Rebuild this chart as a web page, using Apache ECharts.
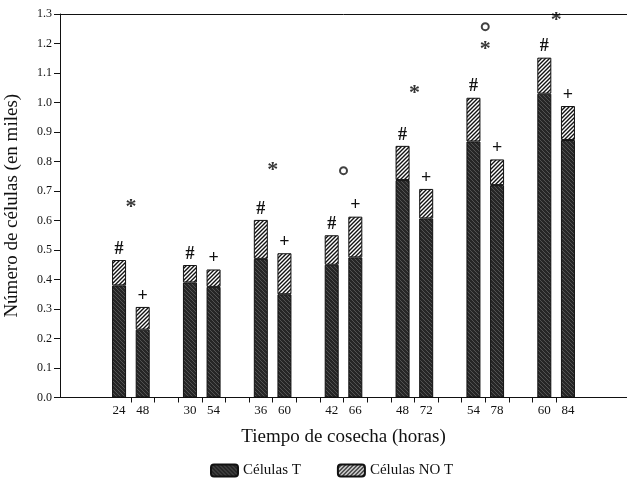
<!DOCTYPE html>
<html>
<head>
<meta charset="utf-8">
<script src="https://cdn.jsdelivr.net/npm/echarts@6/dist/echarts.min.js"></script>
<style>html,body{margin:0;padding:0;background:#fff}#c{width:627px;height:479px}</style>
</head>
<body>
<div id="c"></div>
<script>
// ---- data ----
const groupLabels = [['24','48'],['30','54'],['36','60'],['42','66'],['48','72'],['54','78'],['60','84']];
const celulasT   = [[0.380,0.230],[0.390,0.375],[0.470,0.350],[0.450,0.475],[0.737,0.607],[0.868,0.720],[1.030,0.873]];
const celulasNoT = [[0.086,0.077],[0.059,0.059],[0.132,0.139],[0.100,0.138],[0.116,0.100],[0.148,0.087],[0.122,0.115]];
const barMarks = ['#','+'];
// group index, y value
const estrellas = [[0,0.662],[2,0.788],[4,1.048],[5,1.197],[6,1.295]];
const circulos  = [[3,0.769],[5,1.257]];
const yTicks = {min:0, max:1.3, step:0.1};

// ---- build categories ----
const LEAD = 2;
const cats = [], labels = [], tData = [], nData = [], markTxt = [];
for (let i = 0; i < LEAD; i++) { cats.push('lead'+i); labels.push(''); tData.push(null); nData.push(null); markTxt.push(''); }
groupLabels.forEach((g, gi) => {
  for (let b = 0; b < 2; b++) {
    cats.push('g'+gi+'b'+b); labels.push(g[b]);
    tData.push(celulasT[gi][b]); nData.push(celulasNoT[gi][b]); markTxt.push(barMarks[b]);
  }
  cats.push('gap'+gi); labels.push(''); tData.push(null); nData.push(null); markTxt.push('');
});
cats.push('tail'); labels.push(''); tData.push(null); nData.push(null); markTxt.push('');
const N = cats.length;
const LAST_BAR = LEAD + 3*(groupLabels.length-1) + 1;
const midX = g => LEAD + 3*g + 0.5;

function pattern(dark) {
  const c = document.createElement('canvas');
  const s = 4; c.width = s; c.height = s;
  const x = c.getContext('2d');
  if (dark) {
    x.fillStyle = '#262626'; x.fillRect(0,0,s,s);
    x.strokeStyle = '#5e5e5e'; x.lineWidth = 0.8;
    x.beginPath(); x.moveTo(-1,-1); x.lineTo(s+1,s+1); x.stroke();
  } else {
    x.fillStyle = '#ffffff'; x.fillRect(0,0,s,s);
    x.strokeStyle = '#111'; x.lineWidth = 1.4;
    x.beginPath();
    x.moveTo(-1,s+1); x.lineTo(s+1,-1);
    x.moveTo(-1,1); x.lineTo(1,-1);
    x.moveTo(s-1,s+1); x.lineTo(s+1,s-1);
    x.stroke();
  }
  return {image: c, repeat: 'repeat'};
}

const FONT = 'Liberation Serif';
const chart = echarts.init(document.getElementById('c'), null, {renderer:'canvas'});
chart.setOption({
  animation: false,
  textStyle: {fontFamily: FONT, color: '#111'},
  grid: {left: 60, top: 14, width: 567, height: 383.5, containLabel: false, outerBoundsMode: 'none'},
  legend: {
    data: ['Células T','Células NO T'], left: 205, top: 458,
    itemWidth: 27, itemHeight: 12, itemGap: 36,
    textStyle: {fontFamily: FONT, fontSize: 15, color: '#111'}
  },
  xAxis: [{
    type: 'category', data: cats,
    axisLine: {lineStyle: {color: '#111', width: 1}},
    axisTick: {show: true, length: 5, interval: (i) => i >= LEAD + 1 && i <= LAST_BAR, lineStyle: {color: '#111'}},
    axisLabel: {interval: 0, margin: 7, fontSize: 13, color: '#111', fontFamily: FONT,
      formatter: (v, i) => labels[i]},
    name: 'Tiempo de cosecha (horas)', nameLocation: 'middle', nameGap: 30,
    nameTextStyle: {fontFamily: FONT, fontSize: 19, color: '#111'}
  }, {
    type: 'value', min: -0.5, max: N - 0.5, position: 'top',
    axisLine: {show: true, onZero: false, lineStyle: {color: '#111', width: 1}},
    axisTick: {show: false}, axisLabel: {show: false}, splitLine: {show: false}
  }],
  yAxis: {
    type: 'value', min: yTicks.min, max: yTicks.max, interval: yTicks.step,
    axisLine: {show: true, onZero: false, lineStyle: {color: '#111', width: 1}},
    axisTick: {show: true, length: 6, lineStyle: {color: '#111'}},
    axisLabel: {fontSize: 12, margin: 8, color: '#111', fontFamily: FONT, formatter: v => v.toFixed(1)},
    splitLine: {show: false},
    name: 'Número de células (en miles)', nameLocation: 'middle', nameGap: 38,
    nameTextStyle: {fontFamily: FONT, fontSize: 19, color: '#111'}
  },
  series: [
    {name: 'Células T', type: 'bar', stack: 'a', barWidth: 14, data: tData,
     itemStyle: {color: pattern(true), borderColor: '#111', borderWidth: 1}},
    {name: 'Células NO T', type: 'bar', stack: 'a', barWidth: 14, data: nData,
     itemStyle: {color: pattern(false), borderColor: '#111', borderWidth: 1},
     label: {show: true, position: 'top', distance: 2, fontFamily: FONT, fontSize: 18, fontWeight: 'bold', color: '#111',
       formatter: p => markTxt[p.dataIndex]}},
    {type: 'scatter', xAxisIndex: 1, symbolSize: 1, itemStyle: {color: 'transparent'},
     data: estrellas.map(e => [midX(e[0]), e[1]]),
     label: {show: true, position: 'inside', formatter: '*', fontFamily: FONT, fontSize: 22, fontWeight: 'bold', color: '#000', offset: [0, 5]}},
    {type: 'scatter', xAxisIndex: 1, symbol: 'emptyCircle', symbolSize: 7,
     itemStyle: {color: '#111', borderColor: '#111', borderWidth: 1.2},
     data: circulos.map(e => [midX(e[0]), e[1]])}
  ]
});
</script>
</body>
</html>
